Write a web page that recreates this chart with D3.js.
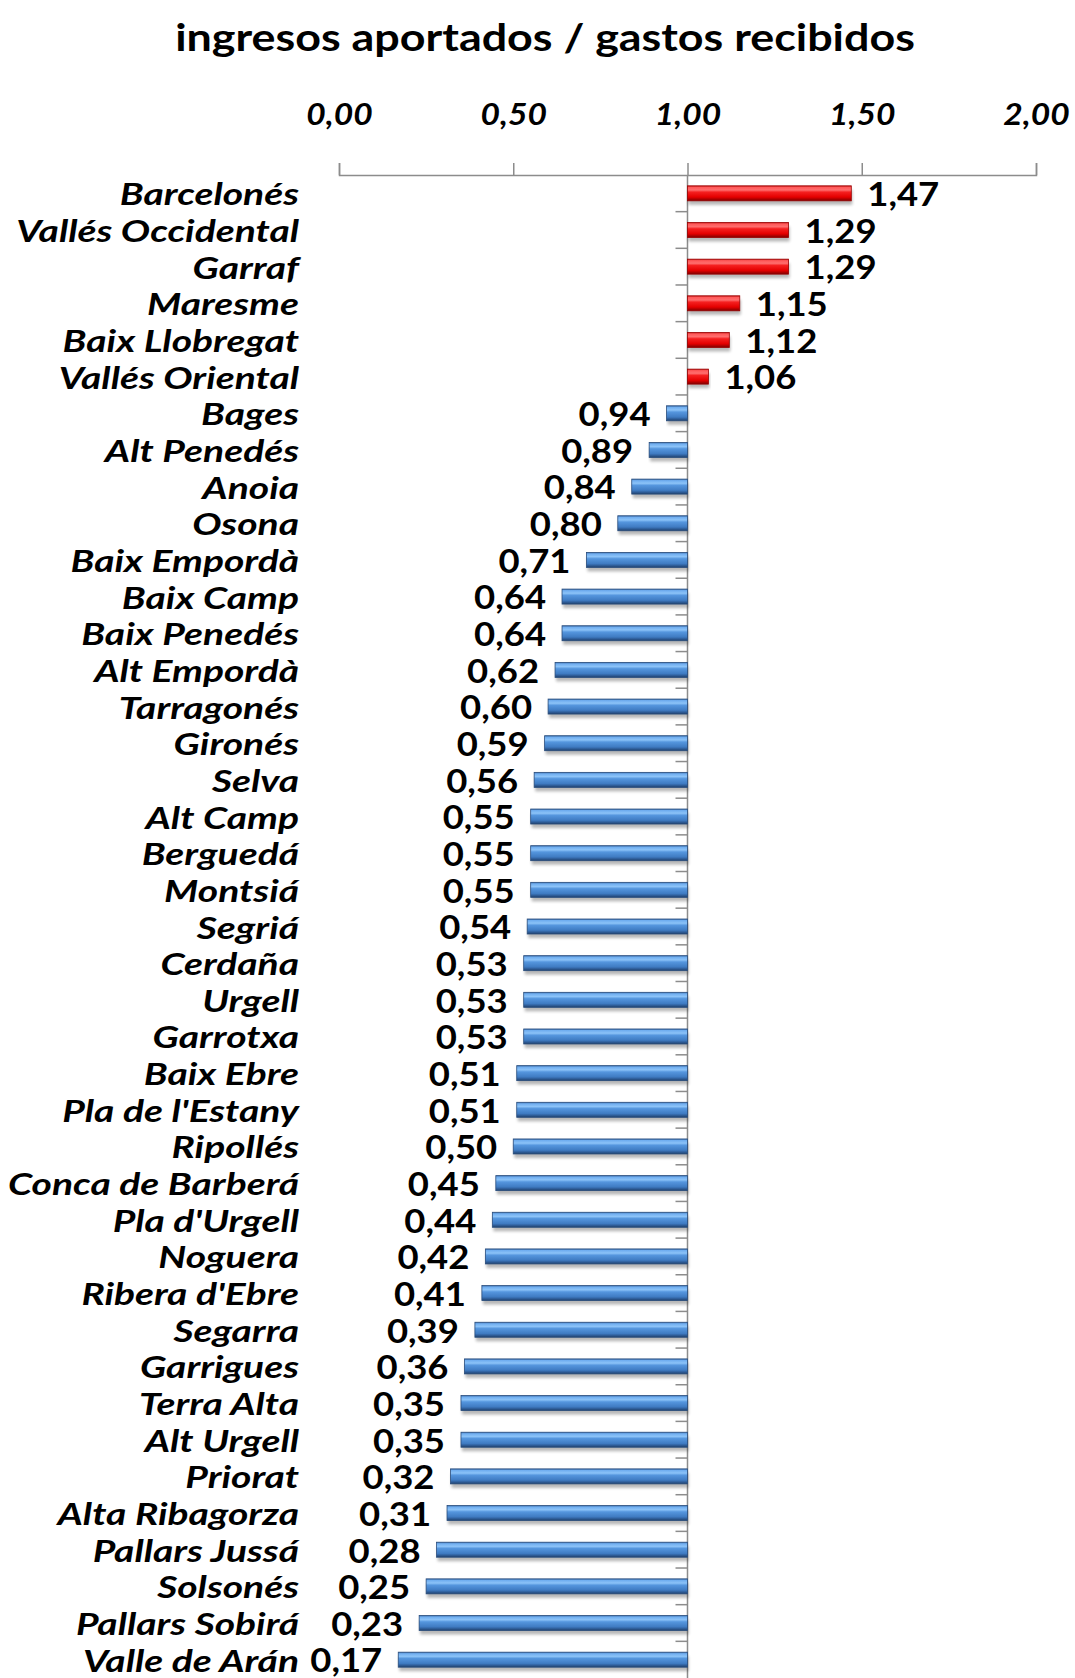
<!DOCTYPE html>
<meta charset="utf-8">
<style>
  body { margin: 0; background: #fff; }
  text { font-family: Lato, "Liberation Sans", sans-serif; font-weight: bold; fill: #000; }
  .cat { font-style: italic; font-size: 30px; }
  .val { font-size: 32px; }
  .tick text { font-style: italic; font-size: 30px; }
</style>
<script src="https://d3js.org/d3.v7.min.js"></script>
<div id="chart"></div>
<script>
var comarcas = ["Barcelonés", "Vallés Occidental", "Garraf", "Maresme", "Baix Llobregat",
  "Vallés Oriental", "Bages", "Alt Penedés", "Anoia", "Osona", "Baix Empordà", "Baix Camp",
  "Baix Penedés", "Alt Empordà", "Tarragonés", "Gironés", "Selva", "Alt Camp", "Berguedá",
  "Montsiá", "Segriá", "Cerdaña", "Urgell", "Garrotxa", "Baix Ebre", "Pla de l'Estany",
  "Ripollés", "Conca de Barberá", "Pla d'Urgell", "Noguera", "Ribera d'Ebre", "Segarra",
  "Garrigues", "Terra Alta", "Alt Urgell", "Priorat", "Alta Ribagorza", "Pallars Jussá",
  "Solsonés", "Pallars Sobirá", "Valle de Arán"];

var ratios = [1.47, 1.29, 1.29, 1.15, 1.12, 1.06, 0.94, 0.89, 0.84, 0.80, 0.71, 0.64,
  0.64, 0.62, 0.60, 0.59, 0.56, 0.55, 0.55, 0.55, 0.54, 0.53, 0.53, 0.53, 0.51, 0.51,
  0.50, 0.45, 0.44, 0.42, 0.41, 0.39, 0.36, 0.35, 0.35, 0.32, 0.31, 0.28, 0.25, 0.23, 0.17];

var xTicks = [0, 0.5, 1, 1.5, 2];
var baseline = 1;

var width = 1075, height = 1678;

var data = comarcas.map(function(c, i) { return {name: c, value: ratios[i]}; });

var svg = d3.select("#chart").append("svg")
    .attr("width", width)
    .attr("height", height);

var defs = svg.append("defs");

function bevel(id, stops) {
  var g = defs.append("linearGradient")
      .attr("id", id)
      .attr("x1", 0).attr("y1", 0).attr("x2", 0).attr("y2", 1);
  stops.forEach(function(s) {
    g.append("stop").attr("offset", s[0]).attr("stop-color", s[1]);
  });
}
bevel("gradRed", [["0%", "#c41414"], ["10%", "#ff5a5a"], ["28%", "#ff6e6e"], ["42%", "#f52020"],
  ["75%", "#e40000"], ["90%", "#a80000"], ["100%", "#7a0000"]]);
bevel("gradBlue", [["0%", "#3a6aa6"], ["10%", "#70aef0"], ["28%", "#8cc3f8"], ["42%", "#5596de"],
  ["75%", "#3f7bc2"], ["90%", "#2b5790"], ["100%", "#22426a"]]);

defs.append("filter").attr("id", "shadow")
  .attr("x", "-5%").attr("y", "-50%").attr("width", "110%").attr("height", "200%")
  .append("feGaussianBlur").attr("stdDeviation", 1.6);

var x = d3.scaleLinear()
    .domain([0, 2])
    .range([339, 1036]);

var y = d3.scaleBand()
    .domain(comarcas)
    .range([175, 1678])
    .padding(0);

var barH = 15;

// the original text is a bit stretched sideways
var catStretch = 1.3, valStretch = 1.14, tickStretch = 1.12;

// title
svg.append("text")
    .attr("transform", "translate(545,51) scale(1.18,1)")
    .attr("text-anchor", "middle")
    .style("font-size", "38px")
    .text("ingresos aportados / gastos recibidos");

// top value axis
var fmt = function(d) { return d3.format(".2f")(d).replace(".", ","); };
var xAxis = svg.append("g")
    .attr("transform", "translate(0,175)")
    .call(d3.axisTop(x).tickValues(xTicks).tickFormat(fmt).tickSize(12).tickSizeOuter(12).tickPadding(38));
xAxis.selectAll("path, line").attr("stroke", "#8c8c8c").attr("stroke-width", 1.5);
xAxis.selectAll("text").attr("fill", "#000")
    .attr("transform", "scale(" + tickStretch + ",1)");

// vertical axis at 1,00 with category ticks on band boundaries
var vAxis = svg.append("g");
vAxis.append("line")
    .attr("x1", x(baseline)).attr("x2", x(baseline))
    .attr("y1", 175).attr("y2", height)
    .attr("stroke", "#8c8c8c").attr("stroke-width", 1.5);
vAxis.selectAll(".ctick")
  .data(comarcas.slice(1))
  .enter().append("line")
    .attr("class", "ctick")
    .attr("x1", x(baseline) - 12).attr("x2", x(baseline))
    .attr("y1", function(d) { return y(d); })
    .attr("y2", function(d) { return y(d); })
    .attr("stroke", "#8c8c8c").attr("stroke-width", 1.5);

// bars
var bars = svg.append("g");
function barX(d) { return x(Math.min(d.value, baseline)); }
function barW(d) { return Math.abs(x(d.value) - x(baseline)); }
function barY(d) { return y(d.name) + y.bandwidth() / 2 - barH / 2; }

bars.selectAll(".shadow")
  .data(data)
  .enter().append("rect")
    .attr("class", "shadow")
    .attr("x", function(d) { return barX(d) + 1; })
    .attr("y", function(d) { return barY(d) + 4; })
    .attr("width", barW)
    .attr("height", barH)
    .attr("fill", "#000")
    .attr("opacity", 0.28)
    .attr("filter", "url(#shadow)");

bars.selectAll(".bar")
  .data(data)
  .enter().append("rect")
    .attr("class", "bar")
    .attr("x", barX)
    .attr("y", barY)
    .attr("width", barW)
    .attr("height", barH)
    .attr("fill", function(d) { return d.value >= baseline ? "url(#gradRed)" : "url(#gradBlue)"; })
    .attr("stroke", function(d) { return d.value >= baseline ? "#9a0000" : "#284c7c"; })
    .attr("stroke-width", 0.8);

// value labels
svg.selectAll(".val")
  .data(data)
  .enter().append("text")
    .attr("class", "val")
    .attr("transform", function(d) {
      var tx = d.value >= baseline ? x(d.value) + 16 : x(d.value) - 16;
      return "translate(" + tx + "," + (y(d.name) + y.bandwidth() / 2) + ") scale(" + valStretch + ",1)";
    })
    .attr("dy", "0.4em")
    .attr("text-anchor", function(d) { return d.value >= baseline ? "start" : "end"; })
    .text(function(d) { return fmt(d.value); });

// category labels
svg.selectAll(".cat")
  .data(data)
  .enter().append("text")
    .attr("class", "cat")
    .attr("transform", function(d) {
      return "translate(299," + (y(d.name) + y.bandwidth() / 2) + ") scale(" + catStretch + ",1)";
    })
    .attr("dy", "0.4em")
    .attr("text-anchor", "end")
    .text(function(d) { return d.name; });
</script>
